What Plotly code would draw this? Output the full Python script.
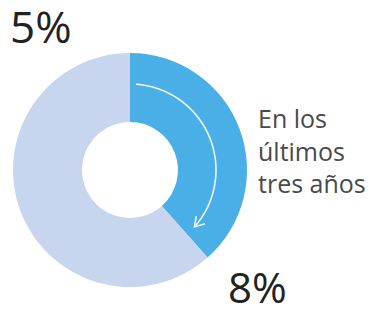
import numpy as np
import plotly.graph_objects as go

# Data
labels = ["En los últimos tres años", "Resto"]
values = [5, 8]
colors = ["#4AAEE7", "#C7D6EE"]
top_label = "5%"
bottom_label = "8%"
caption = "En los<br>últimos<br>tres años"

W, H = 370, 311
# pie placement (pixels)
cx, cy_top, R = 130, 170, 117
cy = H - cy_top
hole = 0.41

fig = go.Figure()
fig.add_trace(go.Pie(
    labels=labels, values=values, sort=False, direction="clockwise", rotation=0,
    hole=hole, marker=dict(colors=colors, line=dict(width=0)),
    textinfo="none", hoverinfo="skip", showlegend=False,
    domain=dict(x=[(cx - R) / W, (cx + R) / W], y=[(cy - R) / H, (cy + R) / H]),
))

# curved arrow inside the first slice, angles derived from the data
frac = values[0] / sum(values)
a0 = np.deg2rad(4)
a1 = np.deg2rad(360 * frac - 7)
r_arrow = 0.735 * R
t = np.linspace(a0, a1, 80)
ax_ = cx + r_arrow * np.sin(t)
ay_ = cy + r_arrow * np.cos(t)
arc_path = "M " + " L ".join(f"{x:.2f},{y:.2f}" for x, y in zip(ax_, ay_))
ex, ey = ax_[-1], ay_[-1]
tx, ty = np.cos(a1), -np.sin(a1)  # tangent direction of travel
L = 11
head = []
for s in (+1, -1):
    ang = np.deg2rad(32) * s
    dx = -(tx * np.cos(ang) - ty * np.sin(ang))
    dy = -(tx * np.sin(ang) + ty * np.cos(ang))
    head.append((ex + L * dx, ey + L * dy))
head_path = f"M {head[0][0]:.2f},{head[0][1]:.2f} L {ex:.2f},{ey:.2f} L {head[1][0]:.2f},{head[1][1]:.2f}"
for p in (arc_path, head_path):
    fig.add_shape(type="path", path=p, xref="x", yref="y", layer="above",
                  line=dict(color="#EEF7FD", width=1.6))

# invisible trace to set up axes
fig.add_trace(go.Scatter(x=[0, W], y=[0, H], mode="markers", marker=dict(opacity=0),
                         hoverinfo="skip", showlegend=False))

font_num = "Open Sans, Segoe UI, sans-serif"
fig.add_annotation(x=8, y=H - 26, xref="x", yref="y", text=top_label, showarrow=False,
                   xanchor="left", yanchor="middle", font=dict(family=font_num, size=44, color="#222222"))
fig.add_annotation(x=226, y=H - 286, xref="x", yref="y", text=bottom_label, showarrow=False,
                   xanchor="left", yanchor="middle", font=dict(family=font_num, size=42, color="#222222"))
fig.add_annotation(x=256, y=H - 150, xref="x", yref="y", text=caption, showarrow=False,
                   xanchor="left", yanchor="middle", align="left",
                   font=dict(family=font_num, size=25, color="#4a4a4a"))

fig.update_layout(
    width=W, height=H, margin=dict(l=0, r=0, t=0, b=0),
    paper_bgcolor="white", plot_bgcolor="rgba(0,0,0,0)",
    xaxis=dict(range=[0, W], visible=False, fixedrange=True),
    yaxis=dict(range=[0, H], visible=False, fixedrange=True),
)
fig.write_html("out.html", config={"displayModeBar": False, "staticPlot": True},
               post_script="document.body.style.margin='0';document.body.style.overflow='hidden';")
